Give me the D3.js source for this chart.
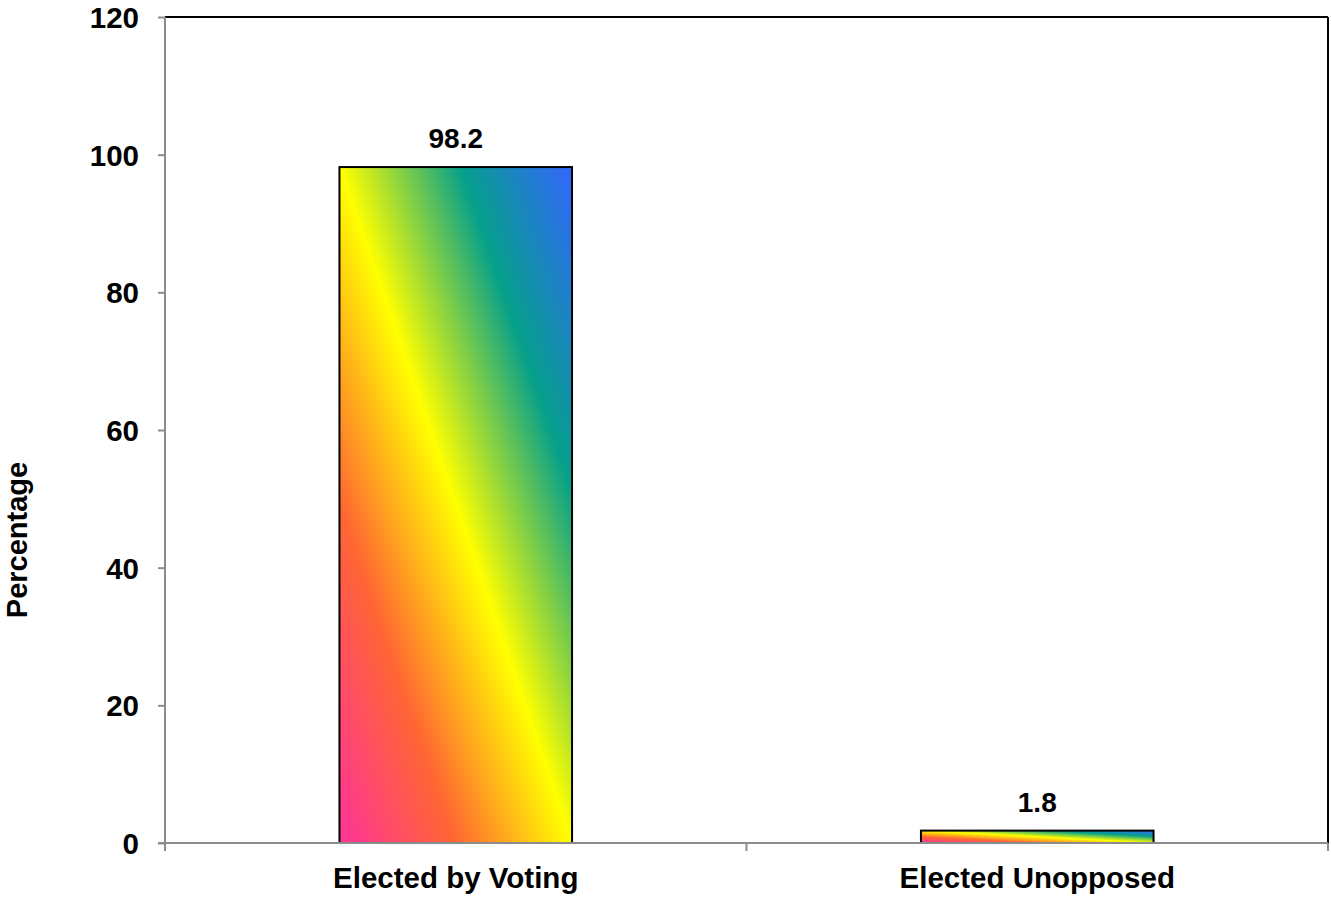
<!DOCTYPE html>
<html>
<head>
<meta charset="utf-8">
<script src="https://cdn.jsdelivr.net/npm/d3@7"></script>
<style>
  html, body { margin: 0; padding: 0; background: #fff; }
  svg { display: block; }
  text { font-family: "Liberation Sans", Arial, sans-serif; font-weight: bold; fill: #000; }
</style>
</head>
<body>
<svg id="chart" width="1331" height="898"></svg>
<script>
const categories = ["Elected by Voting", "Elected Unopposed"];
const values = [98.2, 1.8];
const valueLabels = ["98.2", "1.8"];
const yTicks = [0, 20, 40, 60, 80, 100, 120];
const yTitle = "Percentage";
const gradientStops = [
  { offset: 0, color: "#ff3399" },
  { offset: 0.25, color: "#ff6633" },
  { offset: 0.5, color: "#ffff00" },
  { offset: 0.76, color: "#06a08a" },
  { offset: 1, color: "#3366ff" }
];

(function () {
const svg = d3.select("#chart");
const pl = 165, pr = 1328, pt = 17, pb = 843;

const x = d3.scaleBand().domain(categories).range([pl, pr]).padding(0);
const y = d3.scaleLinear().domain([0, 120]).range([pb, pt]);

const defs = svg.append("defs");
const grad = defs.append("linearGradient")
  .attr("id", "rainbow")
  .attr("x1", 0).attr("y1", 1).attr("x2", 1).attr("y2", 0);
grad.selectAll("stop").data(gradientStops).enter().append("stop")
  .attr("offset", d => d.offset)
  .attr("stop-color", d => d.color);

// plot border (top/right black)
svg.append("line").attr("x1", pl).attr("x2", pr).attr("y1", pt).attr("y2", pt)
  .attr("stroke", "#000").attr("stroke-width", 2);
svg.append("line").attr("x1", pr).attr("x2", pr).attr("y1", pt).attr("y2", pb)
  .attr("stroke", "#000").attr("stroke-width", 2);

// bars
const barFrac = 0.4;
const bw = x.bandwidth() * barFrac;
svg.selectAll("rect.bar").data(values).enter().append("rect")
  .attr("class", "bar")
  .attr("x", (d, i) => x(categories[i]) + x.bandwidth() / 2 - bw / 2)
  .attr("y", d => y(d))
  .attr("width", bw)
  .attr("height", d => y(0) - y(d))
  .attr("fill", "url(#rainbow)")
  .attr("stroke", "#000")
  .attr("stroke-width", 2);

// value labels
svg.selectAll("text.val").data(values).enter().append("text")
  .attr("class", "val")
  .attr("x", (d, i) => x(categories[i]) + x.bandwidth() / 2)
  .attr("y", d => y(d) - 19)
  .attr("text-anchor", "middle")
  .style("font-size", "28px")
  .text((d, i) => valueLabels[i]);

// y axis
const yAxis = svg.append("g").attr("transform", `translate(${pl},0)`)
  .call(d3.axisLeft(y).tickValues(yTicks).tickSize(7).tickPadding(19).tickFormat(d3.format("d")));
yAxis.select(".domain").attr("stroke", "#8c8c8c").attr("stroke-width", 2).attr("d", `M0,${pt}V${pb}`);
yAxis.selectAll(".tick line").attr("stroke", "#8c8c8c").attr("stroke-width", 2);
yAxis.selectAll(".tick text").style("font-size", "29.5px").attr("fill", "#000").attr("dy", "0.36em")
  .style("font-family", "'Liberation Sans', Arial, sans-serif").style("font-weight", "bold");

// x axis
const xAxis = svg.append("g").attr("transform", `translate(0,${pb})`)
  .call(d3.axisBottom(x).tickSize(0).tickPadding(24));
xAxis.select(".domain").attr("stroke", "#8c8c8c").attr("stroke-width", 2).attr("d", `M${pl - 7},0H${pr}`);
xAxis.selectAll(".tick text").style("font-size", "29.5px").attr("fill", "#000")
  .style("font-family", "'Liberation Sans', Arial, sans-serif").style("font-weight", "bold");

// category boundary ticks
const boundaries = categories.map(c => x(c)).concat([x(categories[categories.length - 1]) + x.bandwidth()]);
xAxis.selectAll("line.bt").data(boundaries).enter().append("line")
  .attr("class", "bt")
  .attr("x1", d => d).attr("x2", d => d).attr("y1", 0).attr("y2", 8)
  .attr("stroke", "#8c8c8c").attr("stroke-width", 2);

// y title
svg.append("text")
  .attr("transform", `translate(27,540) rotate(-90)`)
  .attr("text-anchor", "middle")
  .style("font-size", "29px")
  .text(yTitle);
})();
</script>
</body>
</html>
